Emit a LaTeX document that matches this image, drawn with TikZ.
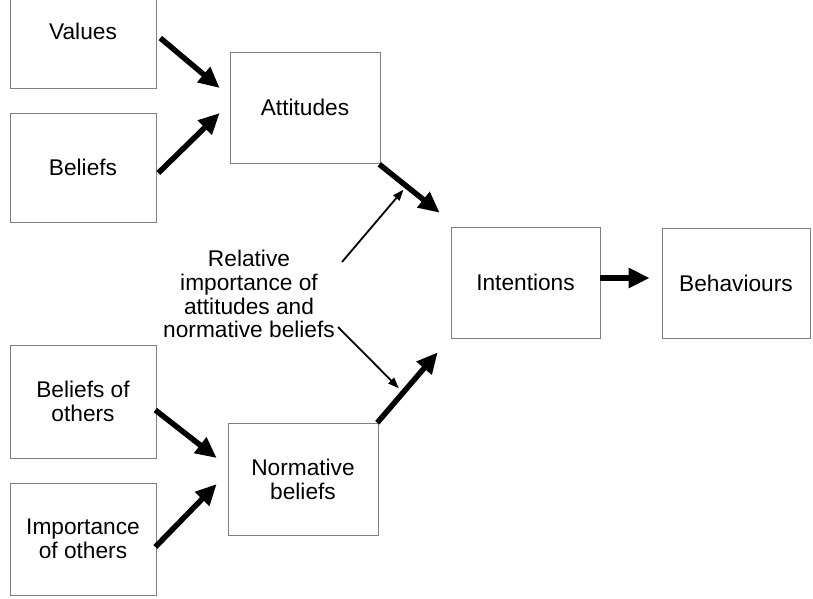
\documentclass[tikz,border=0pt]{standalone}
\usepackage{fontspec}
\setmainfont{Liberation Sans}
\usetikzlibrary{arrows.meta,calc}
\begin{document}
\begin{tikzpicture}[x=1pt,y=-1pt,
  box/.style={draw=black!50,line width=0.6pt,inner sep=0pt,align=center,
    font=\fontsize{22.7pt}{23.8pt}\selectfont},
  txt/.style={inner sep=0pt,align=center,font=\fontsize{22.7pt}{23.8pt}\selectfont},
  big/.style={line width=5.5pt,-{Triangle[length=21pt,width=19pt]}},
  small/.style={line width=1.8pt,-{Triangle[length=11pt,width=8pt]}}]
\useasboundingbox (0,0) rectangle (813,598);
\node[box,minimum width=146pt,minimum height=113pt] (values) at (83,31.5) {Values};
\node[box,minimum width=146pt,minimum height=109pt] (beliefs) at (83,167.5) {Beliefs};
\node[box,minimum width=150pt,minimum height=111pt] (attitudes) at (305,107.5) {Attitudes};
\node[box,minimum width=149pt,minimum height=111pt] (intentions) at (525.5,282.5) {Intentions};
\node[box,minimum width=148pt,minimum height=110pt] (behaviours) at (736,283) {Behaviours};
\node[box,minimum width=146pt,minimum height=113pt] (both) at (83,401.5) {Beliefs of\\others};
\node[box,minimum width=146pt,minimum height=112pt] (imp) at (83,539) {Importance\\of others};
\node[box,minimum width=150pt,minimum height=112pt] (norm) at (303,479) {Normative\\beliefs};
\node[txt] (rel) at (249,294) {Relative\\importance of\\attitudes and\\normative beliefs};
% thick arrows
\draw[big] ($(values.east)+(4,6.5)$) -- ($(attitudes.west)+(-10,-19.5)$);
\draw[big] ($(beliefs.east)+(2,5.5)$) -- ($(attitudes.west)+(-10,5.5)$);
\draw[big] ($(attitudes.south east)+(-1,1)$) -- coordinate[pos=0.4] (ai) ($(intentions.north west)+(-11,-14)$);
\draw[big] ($(norm.north east)+(-1,0)$) -- coordinate[pos=0.39] (ni) ($(intentions.south west)+(-13,14)$);
\draw[big] ($(intentions.east)+(0,-4.5)$) -- ($(behaviours.west)+(-12,-5)$);
\draw[big] ($(both.east)+(-1,8.5)$) -- ($(norm.west)+(-11,-21)$);
\draw[big] ($(imp.east)+(-1,8)$) -- ($(norm.west)+(-11,5)$);
% thin arrows
\draw[small] ($(rel.east)+(7,-32)$) -- ($(ai)+(0,6)$);
\draw[small] ($(rel.east)+(3,33)$) -- ($(ni)+(-2,-7)$);
\end{tikzpicture}
\end{document}
